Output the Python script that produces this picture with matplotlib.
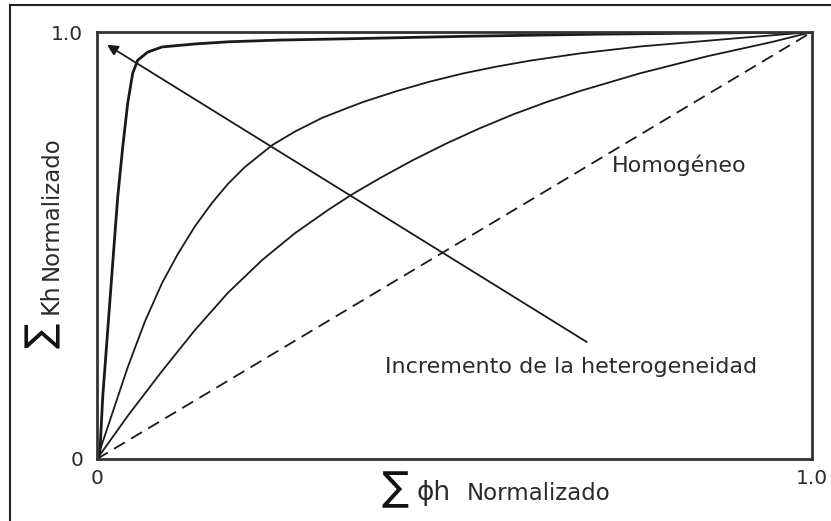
import matplotlib

matplotlib.use("Agg")
import matplotlib.pyplot as plt
from matplotlib.lines import Line2D

# Normalised cumulative capacity curves
x_very_het = [0, 0.004, 0.008, 0.015, 0.022, 0.029, 0.036, 0.043, 0.050, 0.057,
              0.071, 0.091, 0.137, 0.183, 0.253, 0.347, 0.517, 0.703, 1.0]
y_very_het = [0, 0.014, 0.145, 0.302, 0.459, 0.614, 0.731, 0.834, 0.904, 0.934,
              0.953, 0.965, 0.972, 0.977, 0.981, 0.984, 0.990, 0.995, 1.0]

x_mid_het = [0, 0.025, 0.043, 0.067, 0.091, 0.113, 0.137, 0.161, 0.183,
             0.207, 0.245, 0.277, 0.315, 0.347, 0.372, 0.420, 0.466, 0.512,
             0.559, 0.606, 0.676, 0.759, 0.899, 1.0]
y_mid_het = [0, 0.125, 0.215, 0.322, 0.412, 0.480, 0.545, 0.600, 0.644,
             0.684, 0.735, 0.767, 0.799, 0.820, 0.836, 0.862, 0.884, 0.903,
             0.919, 0.933, 0.950, 0.966, 0.986, 1.0]

x_low_het = [0, 0.043, 0.091, 0.137, 0.183, 0.231, 0.277, 0.323, 0.357,
             0.396, 0.442, 0.490, 0.536, 0.582, 0.629, 0.676, 0.759, 0.853,
             0.945, 1.0]
y_low_het = [0, 0.101, 0.206, 0.302, 0.389, 0.466, 0.529, 0.583, 0.620,
             0.658, 0.700, 0.740, 0.775, 0.807, 0.836, 0.862, 0.903, 0.943,
             0.977, 1.0]

x_homog = [0, 1.0]
y_homog = [0, 1.0]

arrow_tail = (0.685, 0.274)
arrow_head = (0.014, 0.970)

tick_pos = [0, 1]
tick_labels = ["0", "1.0"]

W, H = 831, 521
TEXT_COLOR = "#2b2b2b"
LINE_COLOR = "#1a1a1a"


def fx(px):
    return px / W


def fy(py):
    return 1 - py / H


def main():
    fig = plt.figure(figsize=(W / 100, H / 100), dpi=100)
    fig.patch.set_facecolor("white")

    # outer frame (left and top edges visible)
    fig.add_artist(Line2D([fx(10), fx(10)], [fy(5), 0], color="#222222", lw=1.5))
    fig.add_artist(Line2D([fx(10), 1], [fy(5), fy(5)], color="#222222", lw=1.5))

    ax = fig.add_axes([fx(97), fy(459), (812 - 97) / W, (459 - 32) / H])
    ax.set_xlim(0, 1)
    ax.set_ylim(0, 1)
    for spine in ax.spines.values():
        spine.set_linewidth(2.0)
        spine.set_color("#333333")

    ax.plot(x_very_het, y_very_het, color=LINE_COLOR, lw=2.0)
    ax.plot(x_mid_het, y_mid_het, color=LINE_COLOR, lw=1.3)
    ax.plot(x_low_het, y_low_het, color=LINE_COLOR, lw=1.3)
    ax.plot(x_homog, y_homog, color=LINE_COLOR, lw=1.3, dashes=(7, 4))

    ax.annotate(
        "",
        xy=arrow_head,
        xytext=arrow_tail,
        arrowprops=dict(arrowstyle="-|>", lw=1.3, color=LINE_COLOR,
                        mutation_scale=16, shrinkA=0, shrinkB=0),
    )

    ax.text(0.720, 0.689, "Homogéneo", fontsize=16, color=TEXT_COLOR,
            ha="left", va="center")
    ax.text(0.403, 0.215, "Incremento de la heterogeneidad", fontsize=16,
            color=TEXT_COLOR, ha="left", va="center")

    ax.set_xticks(tick_pos)
    ax.set_xticklabels(tick_labels)
    ax.set_yticks(tick_pos)
    ax.set_yticklabels(tick_labels)
    ax.tick_params(axis="both", length=0, labelsize=14.5, labelcolor=TEXT_COLOR)
    ax.tick_params(axis="x", pad=7)
    ax.tick_params(axis="y", pad=10)

    # x axis label: big sigma + phi h + Normalizado
    fig.text(fx(382), fy(500), "\u2211", fontsize=29, color="#111111",
             ha="left", va="baseline")
    fig.text(fx(417), fy(500), "\u03d5h", fontsize=19, color=TEXT_COLOR,
             ha="left", va="baseline")
    fig.text(fx(467), fy(500), "Normalizado", fontsize=16.5, color=TEXT_COLOR,
             ha="left", va="baseline")

    # y axis label, rotated
    fig.text(fx(43), fy(348), "\u2211", fontsize=27, color="#111111",
             rotation=90, ha="left", va="center", rotation_mode="anchor")
    fig.text(fx(58), fy(314), "Kh", fontsize=17, color=TEXT_COLOR,
             rotation=90, ha="left", va="baseline", rotation_mode="anchor")
    fig.text(fx(58), fy(280), "Normalizado", fontsize=16.5, color=TEXT_COLOR,
             rotation=90, ha="left", va="baseline", rotation_mode="anchor")

    fig.savefig("out.png", dpi=100)
    plt.close(fig)


if __name__ == "__main__":
    main()
